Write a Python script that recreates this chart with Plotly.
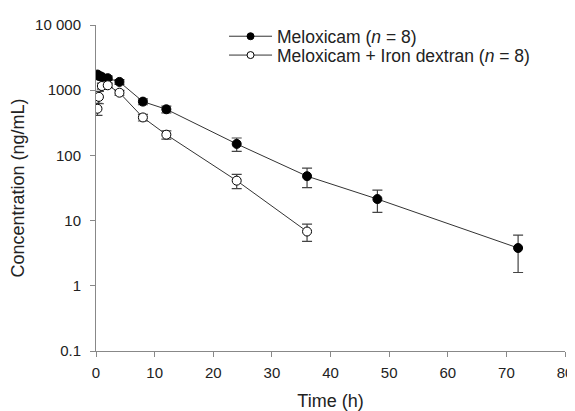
import plotly.graph_objects as go

time_a = [0.25, 0.5, 1, 2, 4, 8, 12, 24, 36, 48, 72]
conc_a = [1740, 1650, 1600, 1530, 1340, 668, 510, 150, 48, 21.4, 3.8]
sd_a = [150, 140, 130, 120, 110, 70, 60, 35, 16, 8, 2.2]

time_b = [0.25, 0.5, 1, 2, 4, 8, 12, 24, 36]
conc_b = [520, 790, 1160, 1190, 916, 382, 208, 41, 6.8]
sd_b = [110, 170, 120, 90, 80, 45, 30, 10, 2]

name_a = "Meloxicam (<i>n</i> = 8)"
name_b = "Meloxicam + Iron dextran (<i>n</i> = 8)"

y_ticks = [0.1, 1, 10, 100, 1000, 10000]
y_ticktext = ["0.1", "1", "10", "100", "1000", "10 000"]
x_ticks = [0, 10, 20, 30, 40, 50, 60, 70, 80]

line_col = "#333333"
err_col = "#444444"
axis_col = "#888888"

fig = go.Figure()
fig.add_trace(go.Scatter(
    x=time_a, y=conc_a, mode="lines+markers", name=name_a, showlegend=False,
    line=dict(color=line_col, width=1),
    marker=dict(symbol="circle", size=9, color="black", line=dict(color="black", width=1)),
    error_y=dict(type="data", array=sd_a, visible=True, color=err_col, thickness=1.2, width=5),
))
fig.add_trace(go.Scatter(
    x=time_b, y=conc_b, mode="lines+markers", name=name_b, showlegend=False,
    line=dict(color=line_col, width=1),
    marker=dict(symbol="circle", size=9, color="white", line=dict(color="black", width=1)),
    error_y=dict(type="data", array=sd_b, visible=True, color=err_col, thickness=1.2, width=5),
))
# legend entries with small markers
fig.add_trace(go.Scatter(
    x=[None], y=[None], mode="lines+markers", name=name_a, legend="legend",
    line=dict(color=line_col, width=1),
    marker=dict(symbol="circle", size=7, color="black", line=dict(color="black", width=1)),
))
fig.add_trace(go.Scatter(
    x=[None], y=[None], mode="lines+markers", name=name_b, legend="legend2",
    line=dict(color=line_col, width=1),
    marker=dict(symbol="circle", size=7, color="white", line=dict(color="black", width=1)),
))

leg_common = dict(xanchor="left", yanchor="top", bgcolor="rgba(0,0,0,0)",
                  borderwidth=0,
                  font=dict(size=17.5, color="#222222"), itemwidth=43)

# the page body adds an 8 px offset, so the figure is 8 px smaller
fig.update_layout(
    width=567, height=403,
    margin=dict(l=88, r=10, t=14, b=60),
    paper_bgcolor="white", plot_bgcolor="white",
    font=dict(family="Liberation Sans, Arial, sans-serif", size=15, color="#222222"),
    showlegend=True,
    legend=dict(x=0.273, y=1.0204, **leg_common),
    legend2=dict(x=0.273, y=0.9626, **leg_common),
    xaxis=dict(range=[0, 80], tickvals=x_ticks, showgrid=False, zeroline=False,
               showline=True, linecolor=axis_col, linewidth=1, ticks="outside",
               ticklen=5, tickcolor=axis_col, automargin=False, ticklabelstandoff=3,
               ticklabeloverflow="allow",
               title=dict(text="Time (h)", font=dict(size=18), standoff=15)),
    yaxis=dict(type="log", range=[-1, 4], tickvals=y_ticks, ticktext=y_ticktext,
               showgrid=False, zeroline=False, showline=True, linecolor=axis_col,
               linewidth=1, ticks="outside", ticklen=5, tickcolor=axis_col,
               automargin=False, ticklabelstandoff=6, ticklabeloverflow="allow",
               title=dict(text="Concentration (ng/mL)", font=dict(size=18), standoff=8)),
)

fig.write_html("out.html")
